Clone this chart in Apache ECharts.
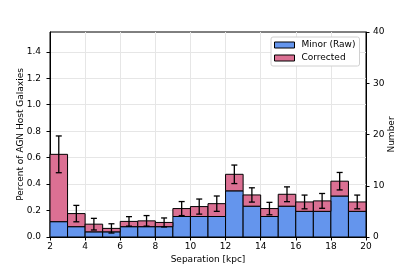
<!DOCTYPE html>
<html><head><meta charset="utf-8">
<script src="https://cdn.jsdelivr.net/npm/echarts@6/dist/echarts.min.js"></script>
<style>html,body{margin:0;padding:0;background:#fff}#c{width:407px;height:271px}</style>
</head><body><div id="c"></div>
<script>
const binStarts = [2,3,4,5,6,7,8,9,10,11,12,13,14,15,16,17,18,19];
const rawPct = [0.116,0.078,0.039,0.039,0.078,0.078,0.078,0.155,0.155,0.155,0.349,0.233,0.155,0.233,0.194,0.194,0.310,0.194];
const correctedPct = [0.625,0.177,0.097,0.065,0.118,0.122,0.11,0.215,0.23,0.252,0.474,0.318,0.215,0.323,0.265,0.273,0.422,0.265];
const errPct = [0.139,0.062,0.044,0.035,0.036,0.04,0.034,0.053,0.057,0.058,0.07,0.054,0.047,0.056,0.052,0.056,0.066,0.052];
const xTicks = [2,4,6,8,10,12,14,16,18,20];
const leftTicks = [0,0.2,0.4,0.6,0.8,1.0,1.2,1.4];
const rightTicks = [0,10,20,30,40];

const FONT = 'DejaVu Sans';
const BLUE = '#6495ED', PINK = '#DB7093';

function barRender(fill){
  return function(params, api){
    const x0 = api.value(0), y0 = api.value(1), y1 = api.value(2);
    const p0 = api.coord([x0, y0]);
    const p1 = api.coord([x0 + 1, y1]);
    return {type:'rect', shape:{x:p0[0], y:p1[1], width:p1[0]-p0[0], height:p0[1]-p1[1]},
      style:{fill:fill, stroke:'#000', lineWidth:1}};
  };
}
function errRender(params, api){
  const xc = api.value(0), y = api.value(1), e = api.value(2);
  const pt = api.coord([xc, y + e]);
  const pb = api.coord([xc, y - e]);
  const cap = 3;
  const st = {stroke:'#000', lineWidth:1.3};
  return {type:'group', children:[
    {type:'line', shape:{x1:pt[0], y1:pt[1], x2:pb[0], y2:pb[1]}, style:st},
    {type:'line', shape:{x1:pt[0]-cap, y1:pt[1], x2:pt[0]+cap, y2:pt[1]}, style:st},
    {type:'line', shape:{x1:pb[0]-cap, y1:pb[1], x2:pb[0]+cap, y2:pb[1]}, style:st}
  ]};
}

const rawData = binStarts.map((b,i)=>[b, 0, rawPct[i]]);
const corrData = binStarts.map((b,i)=>[b, rawPct[i], correctedPct[i]]);
const errData = binStarts.map((b,i)=>[b + 0.5, correctedPct[i], errPct[i]]);

const chart = echarts.init(document.getElementById('c'), null, {renderer:'canvas'});
chart.setOption({
  animation:false,
  textStyle:{fontFamily:FONT},
  grid:{left:50, right:41, top:32, bottom:34, show:true, borderColor:'#000', borderWidth:1, backgroundColor:'transparent'},
  legend:{
    data:['Minor (Raw)','Corrected'], orient:'vertical', left:271, top:37,
    icon:'rect', itemWidth:20, itemHeight:6, itemGap:3,
    padding:[3,4,3,3], backgroundColor:'#fff', borderColor:'#d0d0d0', borderWidth:1, borderRadius:2,
    itemStyle:{borderColor:'#000', borderWidth:1},
    textStyle:{fontFamily:FONT, fontSize:9, color:'#000', lineHeight:10, padding:[0,0,0,2]}
  },
  xAxis:{
    type:'value', min:2, max:20, interval:2,
    name:'Separation [kpc]', nameLocation:'middle', nameGap:18, nameMoveOverlap:false,
    nameTextStyle:{fontFamily:FONT, fontSize:9, color:'#000'},
    axisLine:{show:true, lineStyle:{color:'#000', width:1}},
    axisTick:{show:true, inside:false, length:3.5, lineStyle:{color:'#000'}, customValues:xTicks},
    axisLabel:{fontFamily:FONT, fontSize:9, color:'#000', margin:5, customValues:xTicks},
    splitLine:{show:true, lineStyle:{color:'#e6e6e6', width:1}}
  },
  yAxis:[{
    type:'value', min:0, max:1.55, interval:0.2, position:'left',
    name:'Percent of AGN Host Galaxies', nameLocation:'middle', nameGap:25, nameRotate:90, nameMoveOverlap:false,
    nameTextStyle:{fontFamily:FONT, fontSize:9, color:'#000'},
    axisLine:{show:true, lineStyle:{color:'#000', width:1}},
    axisTick:{show:true, inside:false, length:3.5, lineStyle:{color:'#000'}, customValues:leftTicks},
    axisLabel:{fontFamily:FONT, fontSize:9, color:'#000', margin:9, customValues:leftTicks,
      formatter:v=>v.toFixed(1)},
    splitLine:{show:true, lineStyle:{color:'#e6e6e6', width:1}}
  },{
    type:'value', min:0, max:40, interval:10, position:'right',
    name:'Number', nameLocation:'middle', nameGap:21, nameRotate:90, nameMoveOverlap:false,
    nameTextStyle:{fontFamily:FONT, fontSize:9, color:'#000'},
    axisLine:{show:true, lineStyle:{color:'#000', width:1}},
    axisTick:{show:true, inside:false, length:3.5, lineStyle:{color:'#000'}},
    axisLabel:{fontFamily:FONT, fontSize:9, color:'#000', margin:7},
    splitLine:{show:false}
  }],
  series:[
    {name:'Minor (Raw)', type:'custom', yAxisIndex:0, data:rawData, encode:{x:0, y:[1,2]},
      itemStyle:{color:BLUE}, renderItem:barRender(BLUE), z:2},
    {name:'Corrected', type:'custom', yAxisIndex:0, data:corrData, encode:{x:0, y:[1,2]},
      itemStyle:{color:PINK}, renderItem:barRender(PINK), z:2},
    {name:'err', type:'custom', yAxisIndex:0, data:errData, encode:{x:0, y:1},
      renderItem:errRender, z:3}
  ]
});
</script></body></html>
